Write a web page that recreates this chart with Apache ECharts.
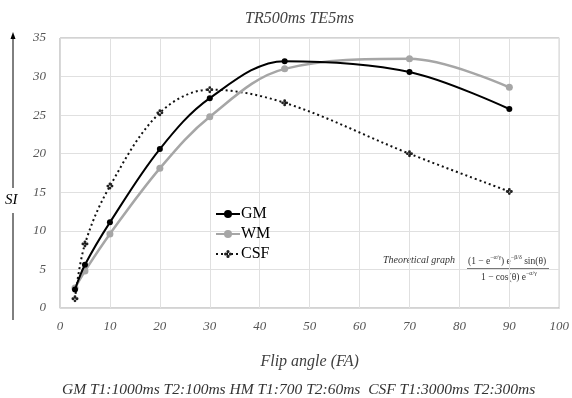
<!DOCTYPE html>
<html>
<head>
<meta charset="utf-8">
<script src="https://cdn.jsdelivr.net/npm/echarts@6/dist/echarts.min.js"></script>
<style>
  html, body { margin: 0; padding: 0; background: #fff; }
  #chart { width: 572px; height: 398px; }
</style>
</head>
<body>
<div id="chart"></div>
<script>
// flip angles (deg) and signal intensity per tissue
const gmAngles = [3, 5, 10, 20, 30, 45, 70, 90];
const gmValues = [2.4, 5.6, 11.1, 20.6, 27.2, 32.0, 30.6, 25.8];
const wmAngles = [3, 5, 10, 20, 30, 45, 70, 90];
const wmValues = [2.6, 4.8, 9.6, 18.1, 24.8, 31.0, 32.3, 28.6];
const csfAngles = [3, 5, 10, 20, 30, 45, 70, 90];
const csfValues = [1.2, 8.3, 15.8, 25.3, 28.3, 26.6, 20.0, 15.1];

const serif = '"Liberation Serif", "Times New Roman", serif';
const pair = (xs, ys) => xs.map((x, i) => [x, ys[i]]);
const cloverMarker = 'path://M4,0 A1.6,1.6 0 1 1 4,3.2 A1.6,1.6 0 1 1 4,0 Z M4,4.8 A1.6,1.6 0 1 1 4,8 A1.6,1.6 0 1 1 4,4.8 Z M0,4 A1.6,1.6 0 1 1 3.2,4 A1.6,1.6 0 1 1 0,4 Z M4.8,4 A1.6,1.6 0 1 1 8,4 A1.6,1.6 0 1 1 4.8,4 Z';

const chart = echarts.init(document.getElementById('chart'));
chart.setOption({
  animation: false,
  title: {
    text: 'TR500ms TE5ms',
    left: 240,
    top: 6,
    textStyle: { fontFamily: serif, fontStyle: 'italic', fontWeight: 'normal', fontSize: 16, color: '#404040' }
  },
  grid: {
    left: 60, right: 10, top: 38, bottom: 90,
    show: true, borderColor: '#a6a6a6', borderWidth: 1
  },
  legend: {
    orient: 'vertical',
    left: 210, top: 201,
    itemWidth: 24, itemHeight: 10, itemGap: 4,
    textStyle: { fontFamily: serif, fontSize: 16, color: '#000', padding: [0, 0, 0, -4] },
    data: ['GM', 'WM', 'CSF']
  },
  xAxis: {
    type: 'value', min: 0, max: 100, interval: 10,
    name: 'Flip angle (FA)', nameLocation: 'middle', nameGap: 46,
    nameTextStyle: { fontFamily: serif, fontStyle: 'italic', fontSize: 16, color: '#404040' },
    axisLine: { show: true, lineStyle: { color: '#d9d9d9' } },
    axisTick: { show: false },
    axisLabel: { fontFamily: serif, fontStyle: 'italic', fontSize: 13, color: '#555', margin: 12 },
    splitLine: { show: true, lineStyle: { color: '#e0e0e0' } }
  },
  yAxis: {
    type: 'value', min: 0, max: 35, interval: 5,
    axisLine: { show: true, lineStyle: { color: '#d9d9d9' } },
    axisTick: { show: false },
    axisLabel: { fontFamily: serif, fontStyle: 'italic', fontSize: 13, color: '#555', margin: 14 },
    splitLine: { show: true, lineStyle: { color: '#e0e0e0' } }
  },
  series: [
    {
      name: 'GM', type: 'line', smooth: 0.35,
      data: pair(gmAngles, gmValues),
      symbol: 'circle', symbolSize: 6,
      itemStyle: { color: '#000' },
      lineStyle: { color: '#000', width: 2 },
      z: 4
    },
    {
      name: 'WM', type: 'line', smooth: 0.35,
      data: pair(wmAngles, wmValues),
      symbol: 'circle', symbolSize: 7,
      itemStyle: { color: '#a6a6a6' },
      lineStyle: { color: '#a6a6a6', width: 2.5 },
      z: 3
    },
    {
      name: 'CSF', type: 'line', smooth: 0.35,
      data: pair(csfAngles, csfValues),
      symbol: cloverMarker, symbolSize: 7,
      itemStyle: { color: '#222' },
      lineStyle: { color: '#111', width: 2, type: [2, 3] },
      z: 2
    }
  ],
  graphic: [
    // SI axis arrow
    { type: 'line', shape: { x1: 13, y1: 320, x2: 13, y2: 213 }, style: { stroke: '#000', lineWidth: 1 } },
    { type: 'line', shape: { x1: 13, y1: 188, x2: 13, y2: 38 }, style: { stroke: '#000', lineWidth: 1 } },
    { type: 'polygon', shape: { points: [[13, 32], [10.5, 39], [15.5, 39]] }, style: { fill: '#000' } },
    {
      type: 'text', left: 5, top: 193,
      style: { text: 'SI', font: 'italic 15px "Liberation Serif", serif', fill: '#000' }
    },
    // formula annotation
    {
      type: 'text', left: 383, top: 255,
      style: { text: 'Theoretical graph', font: 'italic 10px "Liberation Serif", serif', fill: '#333' }
    },
    {
      type: 'text', left: 468, top: 254,
      style: {
        text: '{n|(1 − e}{s|−α/γ}{n|) e}{s|−β/δ}{n| sin(θ)}',
        rich: {
          n: { fontFamily: serif, fontSize: 9.5, fill: '#333', verticalAlign: 'bottom', lineHeight: 12 },
          s: { fontFamily: serif, fontSize: 6, fill: '#333', verticalAlign: 'top', lineHeight: 12 }
        }
      }
    },
    { type: 'line', shape: { x1: 467, y1: 268.5, x2: 549, y2: 268.5 }, style: { stroke: '#555', lineWidth: 0.8 } },
    {
      type: 'text', left: 481, top: 270,
      style: {
        text: '{n|1 − cos(θ) e}{s|−α/γ}',
        rich: {
          n: { fontFamily: serif, fontSize: 9.5, fill: '#333', verticalAlign: 'bottom', lineHeight: 12 },
          s: { fontFamily: serif, fontSize: 6, fill: '#333', verticalAlign: 'top', lineHeight: 12 }
        }
      }
    },
    // bottom caption
    {
      type: 'text', left: 62, top: 382,
      style: {
        text: 'GM T1:1000ms T2:100ms HM T1:700 T2:60ms  CSF T1:3000ms T2:300ms',
        font: 'italic 15.5px "Liberation Serif", serif', fill: '#333'
      }
    }
  ]
});
</script>
</body>
</html>
